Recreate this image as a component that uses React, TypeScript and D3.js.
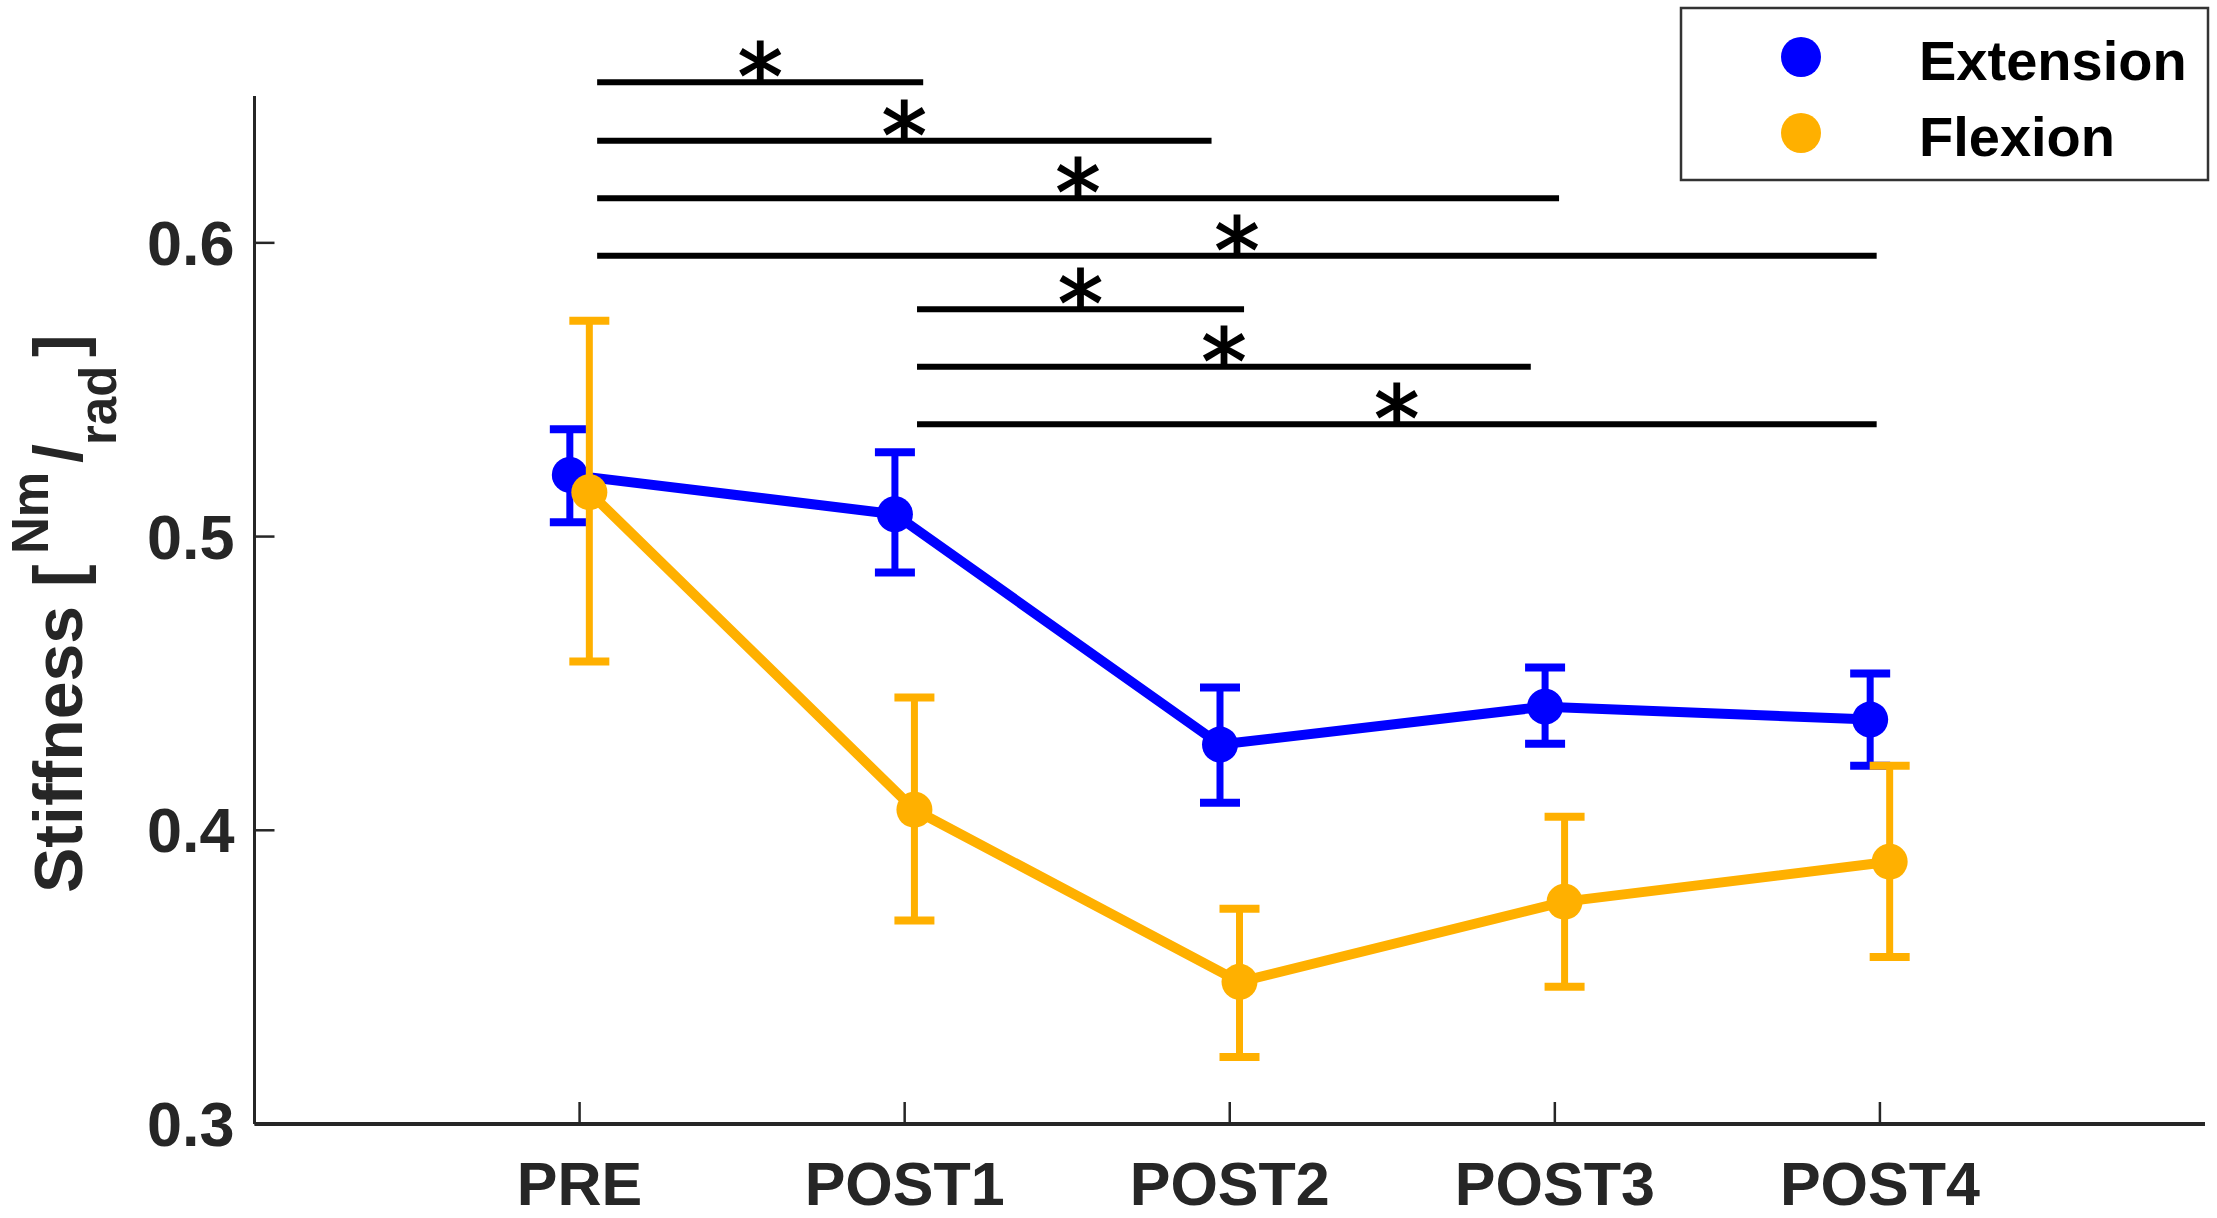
import React from "react";
import * as d3 from "d3";

const categories = ["PRE", "POST1", "POST2", "POST3", "POST4"];
const extMean = [0.521, 0.5076, 0.4292, 0.4421, 0.4377];
const extUpper = [0.5365, 0.5287, 0.4486, 0.4554, 0.4534];
const extLower = [0.5049, 0.4878, 0.4094, 0.4295, 0.422];
const flexMean = [0.5151, 0.407, 0.3484, 0.3757, 0.3893];
const flexUpper = [0.5735, 0.4452, 0.3733, 0.4046, 0.422];
const flexLower = [0.4575, 0.3693, 0.3228, 0.3467, 0.3569];
const yTicks = [0.3, 0.4, 0.5, 0.6];
const sigStart = [1.054, 1.054, 1.054, 1.054, 2.038, 2.038, 2.038];
const sigEnd = [2.057, 2.944, 4.013, 4.99, 3.044, 3.926, 4.99];
const sigY = [0.6547, 0.6348, 0.6152, 0.5956, 0.5774, 0.5578, 0.5382];
const seriesNames = ["Extension", "Flexion"];
const seriesColors = ["#0000FF", "#FFB000"];

const W = 2217;
const H = 1218;
const FONT = "'Liberation Sans', Arial, Helvetica, sans-serif";

export default function App() {
  const x = d3.scaleLinear().domain([0, 6]).range([254.5, 2205]);
  const y = d3.scaleLinear().domain([0.3, 0.65]).range([1124, 96]);
  const offsets = [-0.03, 0.03];
  const series = [
    { mean: extMean, up: extUpper, lo: extLower },
    { mean: flexMean, up: flexUpper, lo: flexLower },
  ];

  return (
    <svg
      width={W}
      height={H}
      viewBox={`0 0 ${W} ${H}`}
      style={{ position: "absolute", left: 0, top: 0, background: "#fff" }}
      fontFamily={FONT}
    >
      <rect x={0} y={0} width={W} height={H} fill="#fff" />
      {/* axes */}
      <line x1={x(0)} x2={x(0)} y1={y(0.65)} y2={y(0.3)} stroke="#262626" strokeWidth={3} />
      <line x1={x(0)} x2={x(6)} y1={y(0.3)} y2={y(0.3)} stroke="#262626" strokeWidth={4} />
      {yTicks.map((t) => (
        <g key={"yt" + t}>
          <line x1={x(0)} x2={x(0) + 20} y1={y(t)} y2={y(t)} stroke="#262626" strokeWidth={2.5} />
          <text
            x={x(0) - 20}
            y={y(t)}
            textAnchor="end"
            dominantBaseline="central"
            fontSize={63}
            fontWeight="bold"
            fill="#262626"
          >
            {t.toFixed(1)}
          </text>
        </g>
      ))}
      {categories.map((c, i) => (
        <g key={"xt" + c}>
          <line x1={x(i + 1)} x2={x(i + 1)} y1={y(0.3)} y2={y(0.3) - 22} stroke="#262626" strokeWidth={2.5} />
          <text x={x(i + 1)} y={1205} textAnchor="middle" fontSize={61} fontWeight="bold" fill="#262626">
            {c}
          </text>
        </g>
      ))}
      {/* y label */}
      <text
        transform={`translate(82, 893) rotate(-90)`}
        textAnchor="start"
        fontSize={68}
        fontWeight="bold"
        fill="#262626"
      >
        <tspan x={0}>Stiffness [</tspan>
        <tspan x={339} fontSize={51} dy={-34}>Nm</tspan>
        <tspan x={430} fontSize={68} dy={34}>/</tspan>
        <tspan x={448} fontSize={51} dy={34}>rad</tspan>
        <tspan x={536} fontSize={68} dy={-34}>]</tspan>
      </text>
      {/* series */}
      {series.map((s, si) => {
        const col = seriesColors[si];
        const off = offsets[si];
        const ln = d3
          .line<number>()
          .x((_, i) => x(i + 1 + off))
          .y((d) => y(d));
        return (
          <g key={"s" + si}>
            <path d={ln(s.mean) || ""} fill="none" stroke={col} strokeWidth={10} strokeLinejoin="round" />
            {s.mean.map((m, i) => {
              const cx = x(i + 1 + off);
              return (
                <g key={i}>
                  <line x1={cx} x2={cx} y1={y(s.up[i])} y2={y(s.lo[i])} stroke={col} strokeWidth={7} />
                  <line x1={cx - 20} x2={cx + 20} y1={y(s.up[i])} y2={y(s.up[i])} stroke={col} strokeWidth={8} />
                  <line x1={cx - 20} x2={cx + 20} y1={y(s.lo[i])} y2={y(s.lo[i])} stroke={col} strokeWidth={8} />
                  <circle cx={cx} cy={y(m)} r={18} fill={col} />
                </g>
              );
            })}
          </g>
        );
      })}
      {/* significance */}
      {sigY.map((v, i) => {
        const x1 = x(sigStart[i]);
        const x2 = x(sigEnd[i]);
        return (
          <g key={"sig" + i}>
            <line x1={x1} x2={x2} y1={y(v)} y2={y(v)} stroke="#000" strokeWidth={6} />
            <text
              x={(x1 + x2) / 2}
              y={y(v) + 27}
              textAnchor="middle"
              fontSize={90}
              fontFamily="'DejaVu Sans', sans-serif"
              fill="#000"
              stroke="#000"
              strokeWidth={1.8}
            >
              *
            </text>
          </g>
        );
      })}
      {/* legend */}
      <rect x={1681} y={8} width={527} height={172} fill="#fff" stroke="#333" strokeWidth={2.5} />
      {seriesNames.map((n, i) => (
        <g key={"lg" + n}>
          <circle cx={1801} cy={57 + i * 76} r={20} fill={seriesColors[i]} />
          <text x={1919} y={80 + i * 76} fontSize={56} fontWeight="bold" fill="#000">
            {n}
          </text>
        </g>
      ))}
    </svg>
  );
}
